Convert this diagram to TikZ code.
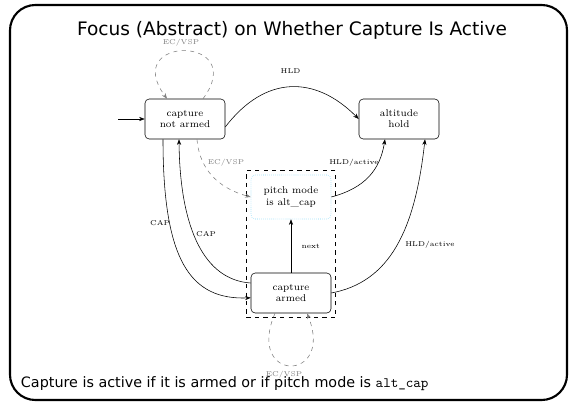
\documentclass[tikz,border=0pt]{standalone}
\usepackage{fontspec}
\newfontfamily\slidefont{DejaVu Sans}
\usetikzlibrary{arrows.meta,fit}
\begin{document}
\begin{tikzpicture}[x=0.025cm,y=-0.025cm,>={Stealth[length=4pt,width=3pt]},
    state/.style={draw,rounded corners=3pt,minimum width=2cm,minimum height=1cm,
      align=center,font=\scriptsize,inner sep=1pt},
    lbl/.style={font=\tiny},
    ghost/.style={gray,dashed}]
    \useasboundingbox (0,0) rectangle (576,407);
    %% slide frame
    \draw[line width=1.5pt,rounded corners=18pt] (10,5) rectangle (567,400);
    \node[font=\slidefont\fontsize{13.2}{15}\selectfont,inner sep=1pt] (title) at (292,30) {Focus (Abstract) on Whether Capture Is Active};
    \node[font=\slidefont\fontsize{10.2}{12}\selectfont,anchor=west] (caption) at (16,384)
        {Capture is active if it is armed or if pitch mode is \texttt{alt\_cap}};
    %% states
    \node[state] (cna) at (185,119) {capture\\not armed};
    \node[state] (ah) at (399,119) {altitude\\hold};
    \node[state,draw=cyan!50,densely dotted,minimum height=1.1cm] (pm) at (291,197) {pitch mode\\is alt\_cap};
    \node[state] (ca) at (291,293) {capture\\armed};
    \node[draw,dashed,thick,fit=(pm)(ca),inner sep=3pt] (focus) {};
    %% initial
    \coordinate (init) at (118,119);
    \draw[->] (init) -- (cna);
    %% transitions
    \draw[->] ([yshift=-0.2cm]cna.east) .. controls (265,75) and (315,75) .. (ah.west)
        node[lbl,pos=0.5,above=6pt] {HLD};
    \draw[->] ([xshift=-0.55cm]cna.south) .. controls (163,260) and (190,300) .. ([yshift=-0.12cm]ca.west);
    \node[lbl] (cap1) at (160,223) {CAP};
    \draw[->] ([yshift=0.25cm]ca.west) .. controls (205,280) and (180,230) .. ([xshift=-0.15cm]cna.south);
    \node[lbl] (cap2) at (206,234) {CAP};
    \draw[ghost,->] ([xshift=0.3cm]cna.south) .. controls (200,175) and (225,190) .. (pm.west);
    \node[lbl,gray] (ecvsp) at (226,163) {EC/VSP};
    \draw[->] (ca.north) -- (pm.south) node[lbl,midway,right=4pt] {next};
    \draw[->] (pm.east) .. controls (365,188) and (380,170) .. ([xshift=-0.35cm]ah.south);
    \node[lbl] (hld1) at (354,163) {HLD/active};
    \draw[->] (ca.east) .. controls (390,282) and (415,230) .. ([xshift=0.65cm]ah.south);
    \node[lbl] (hld2) at (430,245) {HLD/active};
    %% self loops
    \draw[ghost,->] ([xshift=0.45cm]cna.north) .. controls (250,35) and (120,35) .. ([xshift=-0.45cm]cna.north);
    \node[lbl,gray,inner sep=1pt] (loop1) at (181,43) {EC/VSP};
    \draw[ghost,->] ([xshift=-0.4cm]ca.south) .. controls (245,383) and (335,383) .. ([xshift=0.4cm]ca.south);
    \node[lbl,gray] (loop2) at (284,375) {EC/VSP};
\end{tikzpicture}
\end{document}
